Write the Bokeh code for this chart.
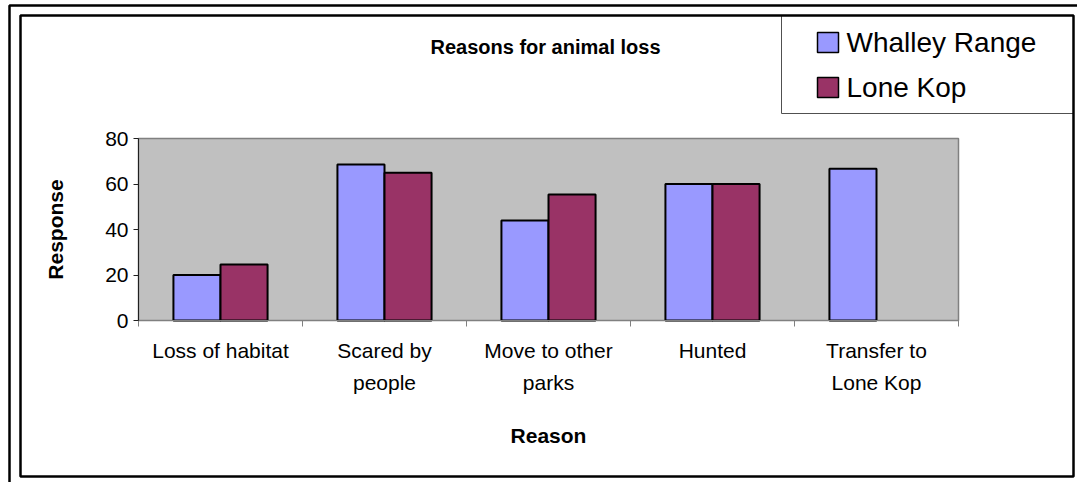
from bokeh.plotting import figure
from bokeh.models import (ColumnDataSource, Range1d, LinearAxis, FixedTicker,
                          BoxAnnotation, Label, LinearScale)
from bokeh.transform import dodge
from bokeh.embed import file_html
from bokeh.resources import INLINE

# Survey responses per reason
reasons = ["Loss of habitat", "Scared by\npeople", "Move to other\nparks", "Hunted", "Transfer to\nLone Kop"]
whalley_range = [20, 68.6, 44, 60, 66.7]
lone_kop = [24.6, 65, 55.4, 60, float("nan")]
series_names = ["Whalley Range", "Lone Kop"]
series_colors = ["#9999FF", "#993366"]
y_ticks = [0, 20, 40, 60, 80]
y_max = 80

FONT = "Liberation Sans"
W, H = 1077, 482
# plot-area edges in canvas pixels
PL, PR, PT, PB = 138, 958, 138, 320

n = len(reasons)
slot_px = (PR - PL) / n
unit_px = (PB - PT) / y_max
slot_centers = [i + 0.5 for i in range(n)]
source = ColumnDataSource(dict(pos=slot_centers, wr=whalley_range, lk=lone_kop))

# the drawing frame spans the whole canvas; data ranges place the plot area
p = figure(width=W, height=H,
           x_range=Range1d(-PL / slot_px, n + (W - PR) / slot_px),
           y_range=Range1d(-(H - PB) / unit_px, y_max + PT / unit_px),
           output_backend="svg", toolbar_location=None,
           x_axis_location=None, y_axis_location=None, min_border=0)
# canvas-pixel ranges for the frame, title and legend
p.extra_x_ranges = {"px": Range1d(0, W)}
p.extra_x_scales = {"px": LinearScale()}
p.extra_y_ranges = {"px": Range1d(H, 0)}
p.extra_y_scales = {"px": LinearScale()}

p.background_fill_color = "white"
p.border_fill_color = "white"
p.outline_line_color = None
p.xgrid.visible = False
p.ygrid.visible = False

# plot area
p.add_layout(BoxAnnotation(left=0, right=n, bottom=0, top=y_max, level="underlay",
                           fill_color="#C0C0C0", fill_alpha=1,
                           line_color="#808080", line_alpha=1, line_width=1.5))

bw = 0.287
p.vbar(x=dodge("pos", -bw / 2), top="wr", width=bw, source=source,
       fill_color=series_colors[0], line_color="black", line_width=2)
p.vbar(x=dodge("pos", bw / 2), top="lk", width=bw, source=source,
       fill_color=series_colors[1], line_color="black", line_width=2)

# y axis
ya = LinearAxis(fixed_location=0, bounds=(0, y_max), ticker=FixedTicker(ticks=y_ticks),
                axis_line_color="#202020", major_tick_line_color="#202020",
                major_tick_out=5, major_tick_in=0, minor_tick_line_color=None,
                major_label_text_font=FONT, major_label_text_font_size="21px",
                major_label_text_color="black", major_label_standoff=5,
                axis_label="Response", axis_label_text_font=FONT,
                axis_label_text_font_size="21px", axis_label_text_font_style="bold",
                axis_label_text_color="black", axis_label_standoff=35)
p.add_layout(ya, "left")

# x axis: tick marks on category boundaries
tick_axis = LinearAxis(fixed_location=0, bounds=(0, n),
                       ticker=FixedTicker(ticks=list(range(n + 1))),
                       major_label_overrides={i: "" for i in range(n + 1)},
                       major_label_text_font_size="0px", major_label_standoff=0,
                       major_tick_out=6, major_tick_in=0, minor_tick_line_color=None,
                       axis_line_color="#808080", major_tick_line_color="#808080")
p.add_layout(tick_axis, "below")

# x axis: category names and title
cat_axis = LinearAxis(fixed_location=0, bounds=(0, n),
                      ticker=FixedTicker(ticks=slot_centers),
                      major_label_overrides={c: r for c, r in zip(slot_centers, reasons)},
                      axis_line_color=None, major_tick_line_color=None,
                      minor_tick_line_color=None,
                      major_tick_out=0, major_tick_in=0,
                      major_label_text_font=FONT, major_label_text_font_size="21px",
                      major_label_text_color="black",
                      major_label_text_line_height=1.4,
                      major_label_standoff=18,
                      axis_label="Reason", axis_label_text_font=FONT,
                      axis_label_text_font_size="21px", axis_label_text_font_style="bold",
                      axis_label_text_color="black", axis_label_standoff=27)
p.add_layout(cat_axis, "below")

PX = dict(x_range_name="px", y_range_name="px")

# chart title
p.add_layout(Label(x=545, y=46, text="Reasons for animal loss", text_align="center",
                   text_baseline="middle", text_font=FONT, text_font_size="20px",
                   text_font_style="bold", text_color="black", **PX))

# legend box
p.add_layout(BoxAnnotation(left=781, right=1073, top=15, bottom=113,
                           fill_color="white", fill_alpha=1,
                           line_color="#505050", line_alpha=1, line_width=1, **PX))
for i, (name, color) in enumerate(zip(series_names, series_colors)):
    cy = 42 + i * 45
    p.add_layout(BoxAnnotation(left=817, right=838, top=cy - 10, bottom=cy + 10,
                               fill_color=color, fill_alpha=1,
                               line_color="black", line_alpha=1, line_width=1.5, **PX))
    p.add_layout(Label(x=846, y=cy, text=name, text_align="left", text_baseline="middle",
                       text_font=FONT, text_font_size="28px", text_color="black", **PX))

# double frame around the chart
p.add_layout(BoxAnnotation(left=9, right=1100, top=5, bottom=500, fill_color=None,
                           line_color="black", line_alpha=1, line_width=2.5, **PX))
p.add_layout(BoxAnnotation(left=20, right=1073, top=15, bottom=476, fill_color=None,
                           line_color="black", line_alpha=1, line_width=2.5, **PX))

open("out.html", "w").write(file_html(p, INLINE))
